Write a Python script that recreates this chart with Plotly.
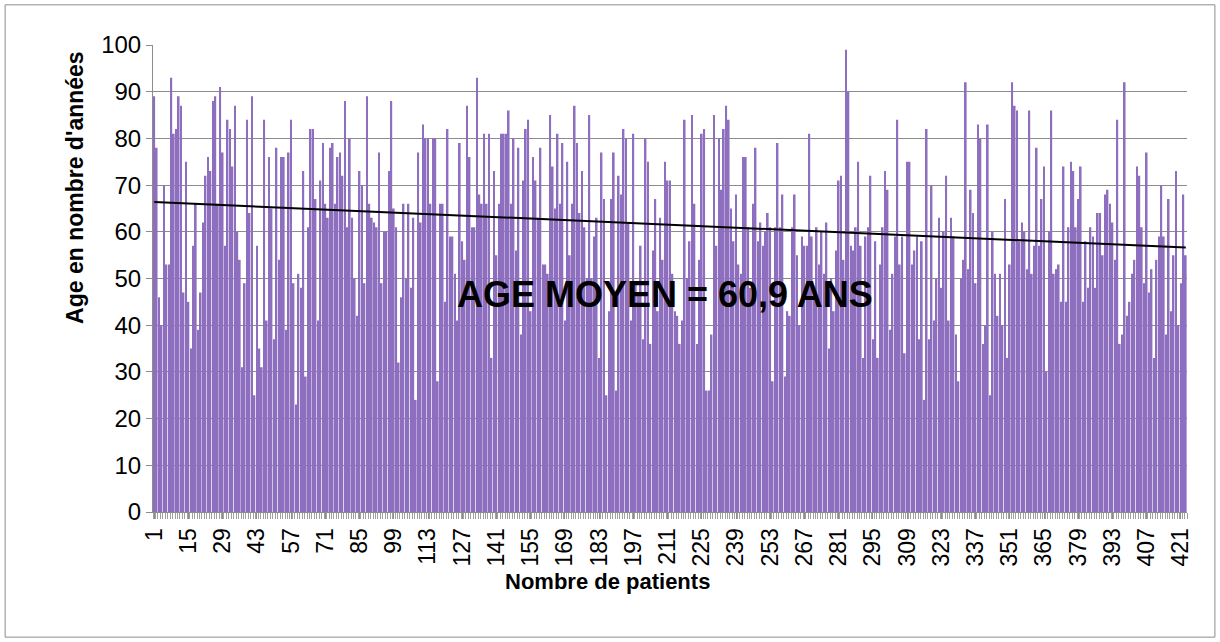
import numpy as np
import plotly.graph_objects as go

# Ages, patient 1 .. 423
ages_part1 = [89,78,46,40,70,53,53,93,81,82,89,87,47,75,45,35,57,66,39,47,62,72,76,73,88,89,66,91,77,57,84,82,74,87,60,
              54,31,49,84,64,89,25,57,35,31,84,41,76,65,37,78,54,76,76,39,77,84,49,23,51,48,73,29,61,82,82,67,41,71,79,66,
              63,78,79,66,76,77,72,88,61,80,63,50,42,73,70,49,89,66,63,62,61,77,49,60,60,73,88,65,61,32,46,66,50,66,48,63]
ages_part2 = [24,77,62,83,80,80,66,80,80,28,66,66,45,82,59,59,51,41,79,58,54,87,76,61,61,93,68,66,81,66,81,33,73,55,66,81,
              81,81,86,66,80,56,78,38,71,82,84,43,76,71,63,78,53,53,51,85,74,65,81,66,79,41,75,55,66,87,79,64,73,61,50,85,
              50,59,63,33,77,67,25,43,67,77,26,72,68,82,80,62,41,81,49,47,57,37,80,75,36,56,67,43,63,54,75,71,71,51,43,42]
ages_part3 = [36,41,84,50,58,85,66,36,54,81,82,26,26,38,85,57,80,69,82,87,84,65,58,68,53,51,76,76,61,48,66,78,58,62,57,60,
              64,61,28,61,79,61,68,29,43,42,61,68,55,40,59,57,57,81,59,48,61,53,60,51,62,35,50,43,56,71,72,54,99,90,57,56,
              61,75,57,33,59,61,72,37,58,33,53,61,73,69,39,51,59,84,53,59,34,75,75,53,56,59,37,58,24,82,37,70,41,50,63,48]
ages_part4 = [60,72,41,63,59,38,28,50,54,92,52,69,64,49,83,80,36,40,83,25,60,51,42,51,40,67,33,53,92,87,86,58,62,60,52,86,
              51,57,78,57,67,74,30,60,86,51,52,53,45,74,45,61,75,73,61,67,74,45,58,48,61,59,48,64,64,55,68,69,66,62,54,84,
              36,38,92,42,45,51,54,74,72,61,49,77,47,52,33,54,59,70,59,38,67,43,55,73,40,49,68,55]

ages = ages_part1 + ages_part2 + ages_part3 + ages_part4
patients = list(range(1, len(ages) + 1))
tick_labels = list(range(1, len(ages) + 1, 14))

annotation_text = "AGE MOYEN = 60,9 ANS"
y_title = "Age en nombre d'années"
x_title = "Nombre de patients"

# linear trendline fitted on the data
slope, intercept = np.polyfit(patients, ages, 1)
trend_x = [patients[0], patients[-1]]
trend_y = [slope * x + intercept for x in trend_x]

fig = go.Figure()
fig.add_trace(go.Bar(
    x=patients, y=ages,
    marker=dict(color="#8e6ebe", line=dict(width=0)),
    showlegend=False, hoverinfo="x+y",
))
fig.add_trace(go.Scatter(
    x=trend_x, y=trend_y, mode="lines",
    line=dict(color="black", width=2), showlegend=False, hoverinfo="skip",
))

fig.update_layout(
    width=1220, height=642,
    margin=dict(l=153, r=33, t=45, b=130),
    paper_bgcolor="white", plot_bgcolor="white",
    bargap=0.3,
    font=dict(family="Liberation Sans, Arial, sans-serif", color="black"),
    xaxis=dict(
        range=[0.5, len(ages) + 0.5],
        tickmode="array", tickvals=tick_labels, ticktext=[str(t) for t in tick_labels],
        tickangle=-90, tickfont=dict(size=23),
        showgrid=False, zeroline=False,
        showline=True, linecolor="#8c8c8c", linewidth=1,
        ticks="outside", ticklen=6, tickcolor="#8c8c8c",
        minor=dict(ticks="outside", tick0=0.5, dtick=1, ticklen=6, tickcolor="#a0a0a0"),
    ),
    yaxis=dict(
        range=[0, 100], dtick=10, tickfont=dict(size=24),
        showgrid=True, gridcolor="#8c8c8c", gridwidth=1,
        zeroline=False,
        showline=True, linecolor="#8c8c8c", linewidth=1,
        ticks="outside", ticklen=6, tickcolor="#8c8c8c",
    ),
    annotations=[
        dict(text="<b>" + annotation_text + "</b>", xref="paper", yref="paper",
             x=0.495, y=0.465, xanchor="center", yanchor="middle",
             showarrow=False, font=dict(size=36, color="black")),
        dict(text="<b>" + x_title + "</b>", xref="paper", yref="paper",
             x=0.44, y=-0.148, xanchor="center", yanchor="middle",
             showarrow=False, font=dict(size=22, color="black")),
        dict(text="<b>" + y_title + "</b>", xref="paper", yref="paper",
             x=-0.0754, y=0.694, xanchor="center", yanchor="middle",
             showarrow=False, textangle=-90, font=dict(size=23, color="black")),
    ],
    shapes=[dict(
        type="rect", xref="paper", yref="paper",
        x0=-0.143, x1=1.027, y0=-0.268, y1=1.086,
        line=dict(color="#8c8c8c", width=1), layer="below",
    )],
)

fig.write_html("out.html", config={"displayModeBar": False},
               post_script="document.body.style.margin='0';")
